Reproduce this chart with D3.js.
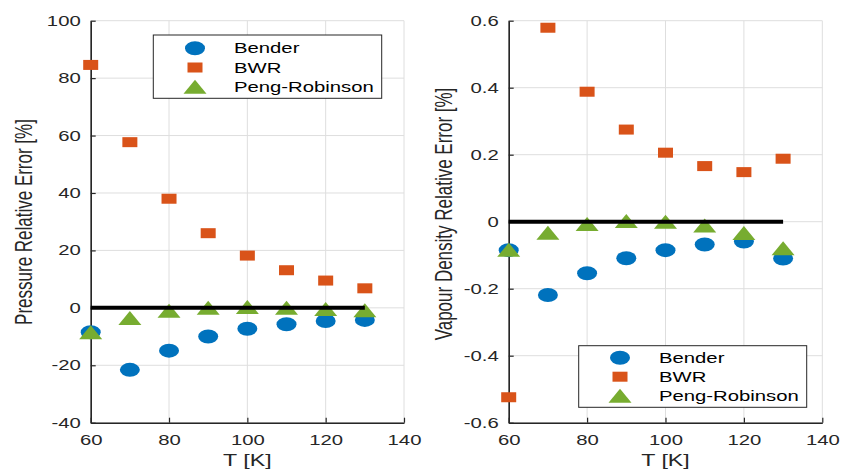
<!DOCTYPE html>
<html>
<head>
<meta charset="utf-8">
<script src="https://cdn.jsdelivr.net/npm/d3@7"></script>
<style>
  body { margin: 0; background: #fff; }
  svg { font-family: "Liberation Sans", Arial, sans-serif; }
</style>
</head>
<body>
<svg id="fig" width="842" height="470"></svg>
<script>
// temperatures [K]
const temps = [60, 70, 80, 90, 100, 110, 120, 130];
const models = ["Bender", "BWR", "Peng-Robinson"];

// pressure relative error [%]
const pBender = [-8.5, -21.6, -14.9, -10.0, -7.3, -5.7, -4.6, -4.2];
const pBWR    = [84.6, 57.7, 38.0, 26.0, 18.2, 13.1, 9.5, 6.8];
const pPR     = [-8.5, -3.5, -1.0, 0.0, 0.3, 0.0, -0.4, -0.8];

// vapour density relative error [%]
const dBender = [-0.085, -0.219, -0.154, -0.109, -0.085, -0.068, -0.059, -0.110];
const dBWR    = [-0.524, 0.579, 0.388, 0.275, 0.206, 0.166, 0.148, 0.188];
const dPR     = [-0.084, -0.033, -0.007, 0.002, 0.0, -0.011, -0.034, -0.079];

const xTicks = [60, 80, 100, 120, 140];
const pTicks = [-40, -20, 0, 20, 40, 60, 80, 100];
const dTicks = [-0.6, -0.4, -0.2, 0, 0.2, 0.4, 0.6];

const colors = ["#0072BD", "#D95319", "#77AC30"];
const sx = 1.45; // the figure is stretched sideways
const svg = d3.select("#fig");

function drawMarker(g, i, cx, cy) {
    if (i === 0) {
        g.append("ellipse").attr("cx", cx).attr("cy", cy)
            .attr("rx", 10).attr("ry", 7).attr("fill", colors[0]);
    } else if (i === 1) {
        g.append("rect").attr("x", cx - 7.5).attr("y", cy - 5)
            .attr("width", 15).attr("height", 10).attr("fill", colors[1]);
    } else {
        g.append("path")
            .attr("d", `M${cx - 11.5},${cy + 7}L${cx},${cy - 7}L${cx + 11.5},${cy + 7}Z`)
            .attr("fill", colors[2]);
    }
}

function panel(opts) {
    let x = d3.scaleLinear().domain([60, 140]).range([opts.left, opts.right]);
    let y = d3.scaleLinear().domain(opts.domain).range([422.7, 20.7]);
    let g = svg.append("g");

    // grid
    g.selectAll(".gx").data(xTicks).enter().append("line")
        .attr("x1", d => x(d)).attr("x2", d => x(d))
        .attr("y1", y.range()[0]).attr("y2", y.range()[1])
        .attr("stroke", "#dedede").attr("stroke-width", 1);
    g.selectAll(".gy").data(opts.ticks).enter().append("line")
        .attr("x1", x.range()[0]).attr("x2", x.range()[1])
        .attr("y1", d => y(d)).attr("y2", d => y(d))
        .attr("stroke", "#dedede").attr("stroke-width", 1);

    // axes
    let xAxis = d3.axisBottom(x).tickValues(xTicks).tickSize(-5).tickSizeOuter(0).tickPadding(12);
    let xg = g.append("g").attr("transform", "translate(0," + y.range()[0] + ")").call(xAxis);
    let yAxis = d3.axisLeft(y).tickValues(opts.ticks).tickFormat(opts.fmt)
        .tickSize(-5).tickSizeOuter(0).tickPadding(10);
    let yg = g.append("g").attr("transform", "translate(" + x.range()[0] + ",0)").call(yAxis);
    [xg, yg].forEach(a => {
        a.select(".domain").attr("stroke", "#262626").attr("stroke-width", 1.6);
        a.selectAll(".tick line").attr("stroke", "#262626").attr("stroke-width", 1.2);
        a.selectAll(".tick text").attr("fill", "#262626").style("font-size", "14px")
            .attr("font-family", "Liberation Sans, Arial, sans-serif");
    });
    xg.selectAll(".tick text").attr("transform", `scale(${sx},1)`);
    yg.selectAll(".tick text").attr("x", -10 / sx).attr("transform", `scale(${sx},1)`);

    // markers
    let series = [opts.s0, opts.s1, opts.s2];
    let mg = g.append("g");
    series.forEach((s, i) => {
        s.forEach((v, j) => drawMarker(mg, i, x(temps[j]), y(v)));
    });

    // zero line
    g.append("line")
        .attr("x1", x(60)).attr("x2", x(130)).attr("y1", y(0)).attr("y2", y(0))
        .attr("stroke", "#000").attr("stroke-width", 4);

    // labels
    g.append("text").text("T [K]")
        .attr("transform", `translate(${(opts.left + opts.right) / 2},466) scale(${sx},1)`)
        .attr("text-anchor", "middle").style("font-size", "16px").attr("fill", "#262626");
    g.append("text").text(opts.ylabel)
        .attr("transform", `translate(${opts.ylx},${opts.yly}) rotate(-90) scale(1,${sx})`)
        .attr("text-anchor", "middle").style("font-size", "17px").attr("fill", "#262626");

    // legend
    let L = opts.legend;
    g.append("rect").attr("x", L.x).attr("y", L.y).attr("width", L.w).attr("height", L.h)
        .attr("fill", "#fff").attr("stroke", "#262626").attr("stroke-width", 1);
    models.forEach((m, i) => {
        let cy = L.y + L.first + i * L.step;
        drawMarker(g, i, L.mx, cy);
        g.append("text").text(m)
            .attr("transform", `translate(${L.tx},${cy + 5}) scale(${sx},1)`)
            .style("font-size", "14px").attr("fill", "#000");
    });
}

panel({
    left: 90.7, right: 404, domain: [-40, 100], ticks: pTicks, fmt: d => String(d),
    s0: pBender, s1: pBWR, s2: pPR,
    ylabel: "Pressure Relative Error [%]", ylx: 31.7, yly: 222,
    legend: { x: 153.3, y: 35, w: 228.4, h: 63.3, first: 13.3, step: 19.2, mx: 195, tx: 234 }
});

panel({
    left: 508.7, right: 822.3, domain: [-0.6, 0.6], ticks: dTicks,
    fmt: d => d === 0 ? "0" : d.toFixed(1),
    s0: dBender, s1: dBWR, s2: dPR,
    ylabel: "Vapour Density Relative Error [%]", ylx: 451.7, yly: 214,
    legend: { x: 578.7, y: 345.7, w: 228, h: 61.6, first: 12, step: 19, mx: 620, tx: 659 }
});
</script>
</body>
</html>
